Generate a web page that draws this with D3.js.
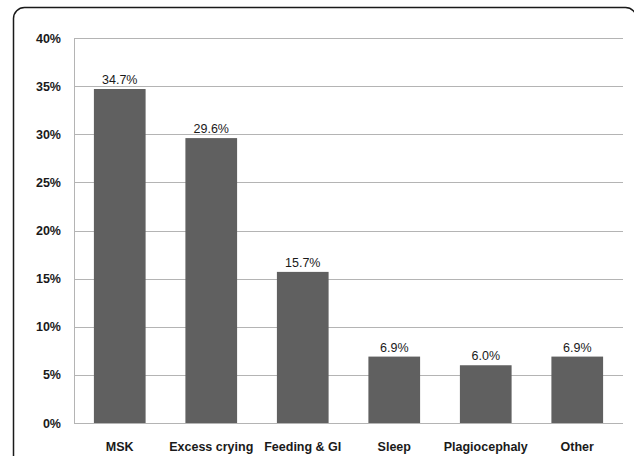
<!DOCTYPE html>
<html><head><meta charset="utf-8">
<script src="https://cdn.jsdelivr.net/npm/d3@7"></script>
<style>html,body{margin:0;padding:0;background:#fff;}svg{display:block;}</style>
</head><body>
<svg id="chart" width="634" height="456"></svg>
<script>
const categories = ["MSK", "Excess crying", "Feeding & GI", "Sleep", "Plagiocephaly", "Other"];
const values = [34.7, 29.6, 15.7, 6.9, 6.0, 6.9];
const valueLabels = ["34.7%", "29.6%", "15.7%", "6.9%", "6.0%", "6.9%"];
const yTicks = [0, 5, 10, 15, 20, 25, 30, 35, 40];

const svg = d3.select("#chart");
const m = {left: 74, right: 11, top: 38, bottom: 33};
const W = 634, H = 456;
const x = d3.scaleBand().domain(categories).range([m.left, W - m.right]).paddingInner(0.435).paddingOuter(0.2175);
const y = d3.scaleLinear().domain([0, 40]).range([H - m.bottom, m.top]);

// outer frame
svg.append("rect").attr("x", 13.5).attr("y", 7.5).attr("width", 623).attr("height", 480)
  .attr("rx", 11).attr("fill", "none").attr("stroke", "#1a1a1a").attr("stroke-width", 1.5);

// gridlines
svg.append("g").selectAll("line").data(yTicks).join("line")
  .attr("x1", m.left).attr("x2", W - m.right)
  .attr("y1", d => Math.round(y(d)) + 0.5).attr("y2", d => Math.round(y(d)) + 0.5)
  .attr("stroke", "#b4b4b4").attr("stroke-width", 1);

// y axis line
svg.append("line").attr("x1", m.left + 0.5).attr("x2", m.left + 0.5)
  .attr("y1", y(40)).attr("y2", y(0)).attr("stroke", "#b4b4b4");

// y axis labels
const yAxis = d3.axisLeft(y).tickValues(yTicks).tickFormat(d => d + "%").tickSize(0).tickPadding(13);
const ga = svg.append("g").attr("transform", `translate(${m.left},0)`).call(yAxis);
ga.select(".domain").remove();
ga.selectAll("text").attr("font-family", "'Liberation Sans', Arial, sans-serif")
  .attr("font-size", 12.5).attr("font-weight", "bold").attr("fill", "#1a1a1a");

// x axis labels
const xAxis = d3.axisBottom(x).tickSize(0).tickPadding(19);
const gx = svg.append("g").attr("transform", `translate(0,${y(0)})`).call(xAxis);
gx.select(".domain").remove();
gx.selectAll("text").attr("font-family", "'Liberation Sans', Arial, sans-serif")
  .attr("font-size", 12.5).attr("font-weight", "bold").attr("fill", "#1a1a1a");

// bars
svg.append("g").selectAll("rect").data(values).join("rect")
  .attr("x", (d, i) => x(categories[i]))
  .attr("width", x.bandwidth())
  .attr("y", d => y(d))
  .attr("height", d => y(0) - y(d))
  .attr("fill", "#606060");

// value labels
svg.append("g").selectAll("text").data(values).join("text")
  .attr("x", (d, i) => x(categories[i]) + x.bandwidth() / 2)
  .attr("y", d => y(d) - 5)
  .attr("text-anchor", "middle")
  .attr("font-family", "'Liberation Sans', Arial, sans-serif")
  .attr("font-size", 12.5).attr("fill", "#1a1a1a")
  .text((d, i) => valueLabels[i]);
</script>
</body></html>
